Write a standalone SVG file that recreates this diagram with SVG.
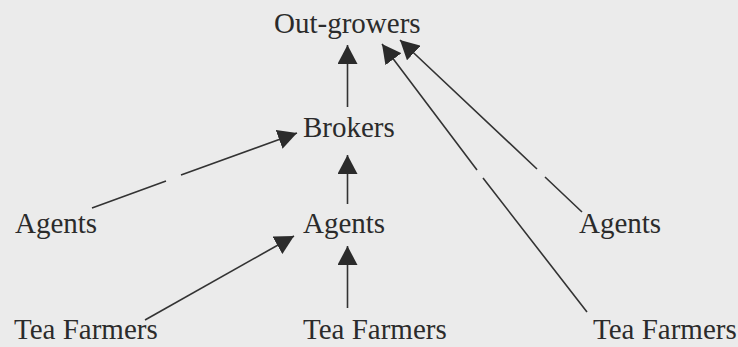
<svg xmlns="http://www.w3.org/2000/svg" width="738" height="347" viewBox="0 0 738 347">
<style>
.lbl{font-family:"Liberation Serif","Times New Roman",serif;font-size:29px;fill:#2b2b2b}
.con{fill:none;stroke:#333;stroke-width:1.6;marker-end:url(#ah)}
</style>
<defs>
<marker id="ah" markerUnits="userSpaceOnUse" markerWidth="20" markerHeight="20" refX="19" refY="10" orient="auto" viewBox="0 0 20 20">
<path d="M0,0 L19,10 L0,20 Z" fill="#2b2b2b"/>
</marker>
</defs>
<rect width="738" height="347" fill="#ebebeb"/>
<g id="connectors">
<path class="con" d="M347.5,107 L347.5,45"/>
<path class="con" d="M587,312 L483,178 M477,170 L382,44"/>
<path class="con" d="M582,212 L545,177 M537,169 L400,40"/>
<path class="con" d="M92,208 L166,181 M181,175 L297,133"/>
<path class="con" d="M347.5,204 L347.5,155"/>
<path class="con" d="M145,320 L294,236"/>
<path class="con" d="M347.5,308 L347.5,246"/>
</g>
<g id="outgrowers"><text class="lbl" x="274" y="33">Out-growers</text></g>
<g id="brokers"><text class="lbl" x="303" y="137">Brokers</text></g>
<g id="agents-left"><text class="lbl" x="15" y="233">Agents</text></g>
<g id="agents-mid"><text class="lbl" x="303" y="233">Agents</text></g>
<g id="agents-right"><text class="lbl" x="579" y="233">Agents</text></g>
<g id="farmers-left"><text class="lbl" x="14" y="339">Tea Farmers</text></g>
<g id="farmers-mid"><text class="lbl" x="303" y="339">Tea Farmers</text></g>
<g id="farmers-right"><text class="lbl" x="593" y="339">Tea Farmers</text></g>
</svg>
